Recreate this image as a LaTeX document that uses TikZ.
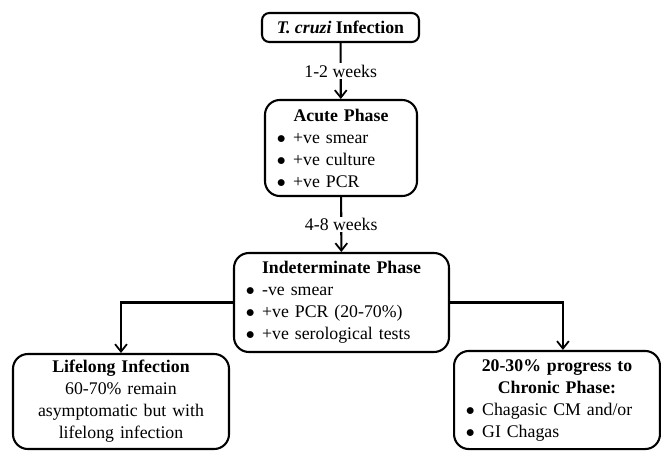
\documentclass[tikz,border=0pt]{standalone}
\usepackage{fontspec}
\setmainfont{Liberation Serif}
\usepackage{tikz}
\usetikzlibrary{arrows.meta}
\setlength{\parindent}{0pt}
\newcommand{\bul}{$\bullet$\hspace{5pt}}

\tikzset{
	phase/.style={draw, line width=1.4pt, rounded corners=10pt, inner xsep=8pt, inner ysep=0pt,
		font=\fontsize{12}{14.85}\selectfont},
	arr/.style={line width=1.4pt, -{Straight Barb[length=5pt,width=8pt,line width=1.2pt]}},
	wk/.style={fill=white, inner sep=1pt, font=\fontsize{12}{14.85}\selectfont}
}

\begin{document}
\begin{tikzpicture}[x=0.675pt, y=-0.675pt]
\useasboundingbox (0,0) rectangle (661,450);

\node[phase, rounded corners=5pt, minimum width=106pt, minimum height=19.6pt] (inf) at (340.5,27.5)
	{\textbf{\textit{T. cruzi}} \textbf{Infection}};
\node[phase, text width=86.6pt, minimum height=64.8pt] (acute) at (341,148)
	{{\centering\textbf{Acute Phase}\par}
	 \bul +ve smear\\ \bul +ve culture\\ \bul +ve PCR};
\node[phase, text width=129.1pt, minimum height=66.8pt] (indet) at (341.5,302.5)
	{{\centering\textbf{Indeterminate Phase}\par}
	 \bul -ve smear\\ \bul +ve PCR (20-70\%)\\ \bul +ve serological tests};
\node[phase, text width=129.8pt, minimum height=64.1pt, align=center] (life) at (121,401.5)
	{\textbf{Lifelong Infection}\\ 60-70\% remain\\ asymptomatic but with\\ lifelong infection};
\node[phase, text width=123pt, minimum height=66.2pt] (prog) at (557,400)
	{{\centering\textbf{20-30\% progress to}\\ \textbf{Chronic Phase:}\par}
	 \bul Chagasic CM and/or\\ \bul GI Chagas};

\draw[arr] (inf) -- node[wk] (w12) {1-2 weeks} (acute);
\draw[arr] (acute) -- node[wk] (w48) {4-8 weeks} (indet);
\draw[arr] (indet.west) -| (life.north);
\draw[arr] (indet.east) -| ([xshift=4pt]prog.north);
\end{tikzpicture}
\end{document}
